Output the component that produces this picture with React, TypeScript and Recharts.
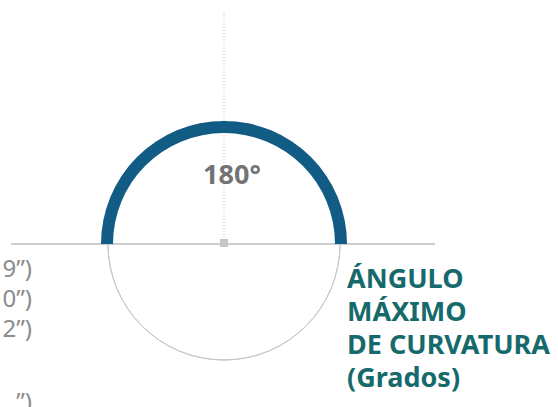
import { PieChart, Pie, Cell } from 'recharts'

// maximum curvature angle, in degrees, out of a half turn
const angleNames = ['Ángulo máximo', 'Resto']
const angleValues = [180, 0]
const angleLabel = '180°'

const titleLines = ['ÁNGULO', 'MÁXIMO', 'DE CURVATURA', '(Grados)']
// cut-off labels on the left edge of the picture
const sideLabels = ['9”)', '0”)', '2”)', '”)']
const sideBaselines = [277, 307, 337, 410]

const W = 558
const H = 407
const CX = 224
const CY = 244

export default function App() {
  const arcData = angleNames.map((name, i) => ({ name, value: angleValues[i] }))
  const guideData = [{ name: 'guía', value: 1 }]

  return (
    <div style={{ position: 'absolute', left: 0, top: 0, width: W, height: H, background: '#fff' }}>
      <PieChart width={W} height={H} margin={{ top: 0, right: 0, bottom: 0, left: 0 }}>
        <line x1={CX} y1={12} x2={CX} y2={CY} stroke="#c4c4c4" strokeWidth={1} strokeDasharray="1 2" />
        <line x1={11} y1={CY} x2={435} y2={CY} stroke="#bdbdbd" strokeWidth={1.5} />
        <Pie
          data={guideData}
          dataKey="value"
          cx={CX}
          cy={CY}
          startAngle={180}
          endAngle={360}
          innerRadius={116}
          outerRadius={116}
          fill="none"
          stroke="#c6c6c6"
          strokeWidth={1}
          isAnimationActive={false}
        />
        <Pie
          data={arcData}
          dataKey="value"
          cx={CX}
          cy={CY}
          startAngle={180}
          endAngle={0}
          innerRadius={111}
          outerRadius={123}
          stroke="none"
          isAnimationActive={false}
        >
          {arcData.map((d, i) => (
            <Cell key={d.name} fill={i === 0 ? '#125b84' : '#e6e6e6'} />
          ))}
        </Pie>
        <rect x={CX - 4} y={CY - 5} width={8} height={8} fill="#c6c6cb" />
        <text
          x={232}
          y={184}
          textAnchor="middle"
          fontFamily="'Noto Sans', sans-serif"
          fontWeight={700}
          fontSize={27}
          fill="#737373"
        >
          {angleLabel}
        </text>
        {titleLines.map((t, i) => (
          <text
            key={t}
            x={347}
            y={288 + i * 33}
            fontFamily="'Noto Sans', sans-serif"
            fontWeight={700}
            fontSize={27}
            fill="#176a6c"
          >
            {t}
          </text>
        ))}
        {sideLabels.map((t, i) => (
          <text
            key={i}
            x={32}
            y={sideBaselines[i]}
            textAnchor="end"
            fontFamily="'Noto Sans', sans-serif"
            fontSize={24}
            fill="#8c8c8c"
          >
            {t}
          </text>
        ))}
      </PieChart>
    </div>
  )
}
